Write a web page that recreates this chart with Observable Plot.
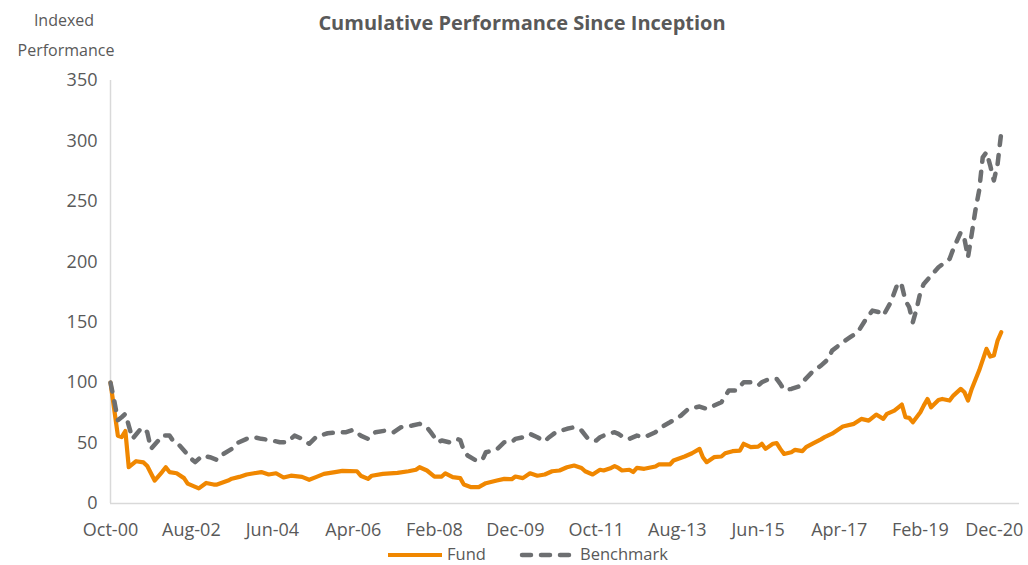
<!DOCTYPE html>
<html><head><meta charset="utf-8">
<script src="https://cdn.jsdelivr.net/npm/d3@7"></script>
<script src="https://cdn.jsdelivr.net/npm/@observablehq/plot@0.6"></script>
<style>body{margin:0;background:#fff} svg{display:block}</style>
</head><body><div id="chart"></div>
<script>
// months since inception (Oct 2000 = 0)
const fundMonth = [0,2,3,4,5,7,9,10,12,14,15,16,18,20,21,24,26,28,29,32,33,35,37,39,41,43,45,47,49,52,54,56,58,61,63,67,68,70,71,74,78,81,83,84,86,88,90,91,93,95,96,98,100,102,105,107,109,110,112,114,116,118,120,122,124,126,128,129,131,133,134,136,137,138,139,141,142,143,145,148,149,152,153,156,158,160,161,162,164,166,167,169,171,172,174,176,177,178,180,181,182,183,185,186,188,189,191,193,194,196,199,202,204,206,208,210,211,213,215,216,217,218,220,221,222,223,225,226,228,229,231,232,233,234,236,238,239,240,241,242];
const fundValue = [100,56,55,60,30,35,34,31,19,26,30,26,25,21,16.5,12.5,17,15.7,15.7,19,20.5,22,24,25,26,24,25,21.5,23,22,19.6,22,24.5,26,27,26.7,23,20.4,23,24.5,25.4,26.7,27.9,30,27.3,22.3,22.3,25,21.8,21,15.7,13.5,13.5,16.8,19,20.4,20.1,22.3,21,25,23,24,26.7,27.3,30,31.4,29.4,26.7,24,27.9,27.3,29.4,30.9,29.4,27.3,27.9,26,29.5,28.7,30.6,32.3,32.3,35.6,38.9,41.6,45.2,38.3,34.2,38.3,38.9,41.6,43.3,43.8,49.4,46.6,47.1,49.4,45.2,49.4,49.9,45.2,41,42.4,44.4,43.3,46.6,49.9,53.1,54.9,57.8,63.7,65.9,70,68.6,73.6,70,74.2,76.9,81.9,71.4,70.9,67.2,75.5,81,86.5,79.6,85.7,86.5,85.2,89.3,94.8,92,85.2,94.8,110,128,121.6,122.4,134.8,141.7];
const benchMonth = [0,1,2,3,4,5,6,8,9,10,11,13,14,16,17,18,20,22,23,25,27,29,30,33,34,37,39,41,43,44,46,48,50,52,54,56,59,62,64,66,68,70,72,75,77,79,82,84,86,87,89,90,92,94,95,96,97,99,101,102,105,107,109,110,112,114,116,118,119,121,124,126,128,130,132,133,135,137,138,140,141,143,145,148,150,152,155,157,160,162,163,166,168,170,172,174,176,177,179,181,182,183,185,187,188,191,193,195,196,199,201,203,205,207,209,210,212,214,215,216,217,218,219,220,221,223,225,228,229,231,232,233,234,235,236,237,238,239,240,241,242];
const benchValue = [100,85,69,71.4,74.2,64.5,53.5,61,62.6,59,45.2,52.1,56.2,56.2,52.1,50.7,43.8,36.9,34.2,39.7,38.3,36.1,39.7,45.2,49.4,53.5,54.8,53.5,52.7,52.1,50.7,50.7,56.2,53.5,49.4,55.4,58.1,59,59,61,56.2,53.5,59,60.4,59,63.1,64.5,65.9,63.1,59,50.7,52.1,50.7,53.5,52.5,43.8,39.7,36.1,35.6,42.4,44.7,50.7,50.7,53.5,54.8,57.6,54.8,51.3,54.4,59,61.8,63.1,60.4,52.7,52.1,54.8,57.6,59,57.6,53.5,53.5,56.2,54.8,59,63.7,67.2,72.8,78.3,80.2,78.3,79.6,83.8,93.5,93.5,100.3,100.3,97.6,100.3,103.1,103.1,99,94,94.8,96.8,100.3,110,114.1,119.6,126.5,133.4,137.6,141.7,151.4,159.6,158.2,155.5,166.5,183,180.3,167.9,162.4,150,161,174.8,181.7,188.6,195.5,202.4,210.7,224.4,218.9,203.7,223,242.3,258.9,286.4,290.6,279.6,267.2,281,307];
const tickMonths = [0,22,44,66,88,110,132,154,176,198,220,242];
const tickLabels = ["Oct-00","Aug-02","Jun-04","Apr-06","Feb-08","Dec-09","Oct-11","Aug-13","Jun-15","Apr-17","Feb-19","Dec-20"];
const yTicks = [0,50,100,150,200,250,300,350];
const seriesNames = ["Fund","Benchmark"];
const titleText = "Cumulative Performance Since Inception";
const yLabelLines = ["Indexed","Performance"];

const toDate = m => new Date(Date.UTC(2000, 9 + m, 1));
const fund = fundMonth.map((m,i)=>({date: toDate(m), value: fundValue[i]}));
const bench = benchMonth.map((m,i)=>({date: toDate(m), value: benchValue[i]}));
const labelByTime = new Map(tickMonths.map((m,i)=>[+toDate(m), tickLabels[i]]));

const FUND = "#F08700", BENCH = "#6D6F71", TXT = "#595959", AX = "#D9D9D9";

const chart = Plot.plot({
  width: 1028, height: 565,
  marginTop: 80, marginBottom: 62, marginLeft: 110, marginRight: 9,
  style: {fontFamily: "'Open Sans', sans-serif", fontSize: "18px", color: TXT, background: "#fff"},
  x: {type: "utc", domain: [toDate(0), toDate(247)], ticks: tickMonths.map(toDate),
      tickFormat: d => labelByTime.get(+d), tickSize: 0, tickPadding: 20, label: null},
  y: {domain: [0, 350], ticks: yTicks, tickSize: 0, tickPadding: 13, label: null},
  marks: [
    Plot.ruleX([toDate(0)], {y1: 0, y2: 350, stroke: AX, strokeWidth: 1.5}),
    Plot.ruleY([0], {stroke: AX, strokeWidth: 1.5}),
    Plot.line(fund, {x: "date", y: "value", stroke: FUND, strokeWidth: 4.2, strokeLinejoin: "round"}),
    Plot.line(bench, {x: "date", y: "value", stroke: BENCH, strokeWidth: 4.5, strokeDasharray: "9,10", strokeLinecap: "round", strokeLinejoin: "round"})
  ]
});
document.getElementById("chart").append(chart);

const svg = d3.select(chart);
// keep the last date label inside the picture, as the reference does
svg.selectAll("text").filter(function(){ return this.textContent === tickLabels[tickLabels.length-1]; })
  .attr("dx", -7);
svg.append("text").attr("x", 522).attr("y", 30).attr("text-anchor", "middle")
  .attr("font-weight", "bold").attr("font-size", 20).attr("fill", TXT).text(titleText);
svg.append("text").attr("x", 64).attr("y", 26).attr("text-anchor", "middle")
  .attr("font-size", 16).attr("fill", TXT).text(yLabelLines[0]);
svg.append("text").attr("x", 66).attr("y", 56).attr("text-anchor", "middle")
  .attr("font-size", 16).attr("fill", TXT).text(yLabelLines[1]);
// legend
const lg = svg.append("g").attr("font-size", 16.5).attr("fill", TXT).attr("text-anchor", "start");
lg.append("line").attr("x1", 388).attr("x2", 442).attr("y1", 555).attr("y2", 555)
  .attr("stroke", FUND).attr("stroke-width", 4);
lg.append("text").attr("x", 447).attr("y", 560).attr("text-anchor", "start").text(seriesNames[0]);
lg.append("line").attr("x1", 522).attr("x2", 572).attr("y1", 555).attr("y2", 555)
  .attr("stroke", BENCH).attr("stroke-width", 4.5).attr("stroke-dasharray", "9,10").attr("stroke-linecap", "round");
lg.append("text").attr("x", 580).attr("y", 560).attr("text-anchor", "start").text(seriesNames[1]);
</script></body></html>
